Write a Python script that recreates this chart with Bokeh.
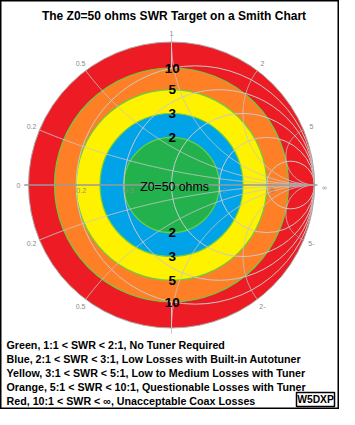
import numpy as np
from bokeh.plotting import figure
from bokeh.models import Range1d, ColumnDataSource
from bokeh.core.properties import value
from bokeh.embed import file_html
from bokeh.resources import INLINE

# ---------------- data ----------------
title = "The Z0=50 ohms SWR Target on a Smith Chart"
ring_swr = [np.inf, 10, 5, 3, 2]                 # outer SWR of each ring
ring_colors = ["#ed1c24", "#ff7f27", "#fff200", "#00a2e8", "#22b14c"]
ring_labels = ["10", "5", "3", "2"]               # SWR boundary labels
ring_label_swr = [10, 5, 3, 2]
r_values = [0.2, 0.5, 1, 2, 5]                    # constant resistance circles
x_values = [0.2, 0.5, 1, 2, 5]                    # constant reactance arcs
x_top_labels = ["0.2", "0.5", "1", "2", "5"]
x_bot_values = [-0.2, -0.5, -2, -5]
x_bot_labels = ["0.2", "0.5", "2-", "5-"]
r_axis_values = [0.2, 0.5, 2, 5]
r_axis_labels = ["0.2", "0.5", "2", "5"]
center_label = "Z0=50 ohms"
legend_lines = [
    "Green, 1:1 < SWR < 2:1, No Tuner Required",
    "Blue, 2:1 < SWR < 3:1, Low Losses with Built-in Autotuner",
    "Yellow, 3:1 < SWR < 5:1, Low to Medium Losses with Tuner",
    "Orange, 5:1 < SWR < 10:1, Questionable Losses with Tuner",
    "Red, 10:1 < SWR < \u221e, Unacceptable Coax Losses",
]
signature = "W5DXP"

# ---------------- layout ----------------
W, H = 339, 409
CX, CY, R = 171.0, 184.5, 143.0   # chart centre / radius in figure pixels


def U(px):
    return (px - CX) / R


def V(py):
    return (CY - py) / R


def gamma(s):
    return 1.0 if np.isinf(s) else (s - 1.0) / (s + 1.0)


p = figure(width=W, height=H, output_backend="svg", toolbar_location=None,
           x_range=Range1d(U(0), U(W)), y_range=Range1d(V(H), V(0)),
           x_axis_type=None, y_axis_type=None, min_border=0)
p.grid.visible = False
p.outline_line_color = "black"
p.outline_line_width = 2
p.background_fill_color = "white"
p.border_fill_color = "white"

FONT = value("Liberation Sans")

# colored SWR rings
rings = ColumnDataSource(dict(x=[0.0] * 5, y=[0.0] * 5,
                              r=[gamma(s) for s in ring_swr], c=ring_colors))
p.circle(x="x", y="y", radius="r", source=rings, fill_color="c",
         line_color=None)
# green boundaries between rings
bnd = ColumnDataSource(dict(x=[0.0] * 4, y=[0.0] * 4,
                            r=[gamma(s) for s in ring_label_swr]))
p.circle(x="x", y="y", radius="r", source=bnd, fill_color=None,
         line_color="#66d040", line_width=1.2)

GRID = "#c9c9c9"
# constant resistance circles
rc = ColumnDataSource(dict(x=[r / (1 + r) for r in r_values], y=[0.0] * 5,
                           r=[1 / (1 + r) for r in r_values]))
p.circle(x="x", y="y", radius="r", source=rc, fill_color=None,
         line_color=GRID, line_width=1)

# constant reactance arcs
t = np.linspace(0, np.pi / 2 - 1e-4, 600)
rs = np.tan(t)
xs, ys = [], []
for xv in x_values + [-v for v in x_values]:
    z = rs + 1j * xv
    g = (z - 1) / (z + 1)
    xs.append(list(g.real))
    ys.append(list(g.imag))
p.multi_line(xs, ys, line_color=GRID, line_width=1)

# short vertical segments near top/bottom
p.segment(x0=[0, 0], y0=[gamma(10), -gamma(10)], x1=[0, 0], y1=[1.04, -1.04],
          line_color=GRID, line_width=1)

# outer edge
p.circle(x=[0], y=[0], radius=[1.0], fill_color=None, line_color="#a8a8a8",
         line_width=1)
# real axis
p.segment(x0=[-1.03], y0=[0], x1=[1.02], y1=[0], line_color="#9a9a9a",
          line_width=1.5)

# small grey labels
lab_x, lab_y, lab_t = [], [], []
for xv, t_ in zip(x_values, x_top_labels):
    g = (1j * xv - 1) / (1j * xv + 1)
    lab_x.append(g.real * 1.06)
    lab_y.append(g.imag * 1.06)
    lab_t.append(t_)
for xv, t_ in zip(x_bot_values, x_bot_labels):
    g = (1j * xv - 1) / (1j * xv + 1)
    lab_x.append(g.real * 1.06)
    lab_y.append(g.imag * 1.06)
    lab_t.append(t_)
lab_x += [-1.07, 1.07]
lab_y += [0.0, -0.02]
lab_t += ["0", "\u221e"]
p.text(x=lab_x, y=lab_y, text=lab_t, text_font=FONT, text_font_size="7px",
       text_color="#8a8a8a", text_align="center", text_baseline="middle")

ax_x = [gamma(r) + 0.035 for r in r_axis_values]
p.text(x=ax_x, y=[-0.035] * 4, text=r_axis_labels, text_font=FONT,
       text_font_size="7px", text_color="#8a8a8a", text_align="center",
       text_baseline="middle")

# SWR labels
sl_y = [gamma(s) for s in ring_label_swr] + [-gamma(s) for s in ring_label_swr]
p.text(x=[0.005] * 8, y=sl_y, text=ring_labels + ring_labels, text_font=FONT,
       text_font_size="13.5px", text_font_style="bold", text_color="black",
       text_align="center", text_baseline="middle")

# centre label
p.text(x=[U(174)], y=[V(186)], text=[center_label], text_font=FONT,
       text_font_size="12.3px", text_color="black", text_align="center",
       text_baseline="middle")

# title
p.text(x=[U(173.5)], y=[V(15)], text=[title], text_font=FONT,
       text_font_size="12px", text_font_style="bold", text_color="black",
       text_align="center", text_baseline="middle")

# legend lines
leg_y = [V(py) for py in (344, 358, 372, 386, 400)]
p.text(x=[U(6)] * 5, y=leg_y, text=legend_lines, text_font=FONT,
       text_font_size="10.7px", text_font_style="bold", text_color="black",
       text_align="left", text_baseline="middle")

# signature box
p.quad(left=[U(296)], right=[U(334)], top=[V(392)], bottom=[V(406)],
       fill_color="white", line_color="black", line_width=1.5)
p.text(x=[U(315)], y=[V(399)], text=[signature], text_font=FONT,
       text_font_size="10.3px", text_font_style="bold", text_color="black",
       text_align="center", text_baseline="middle")

open("out.html", "w").write(file_html(p, INLINE))
